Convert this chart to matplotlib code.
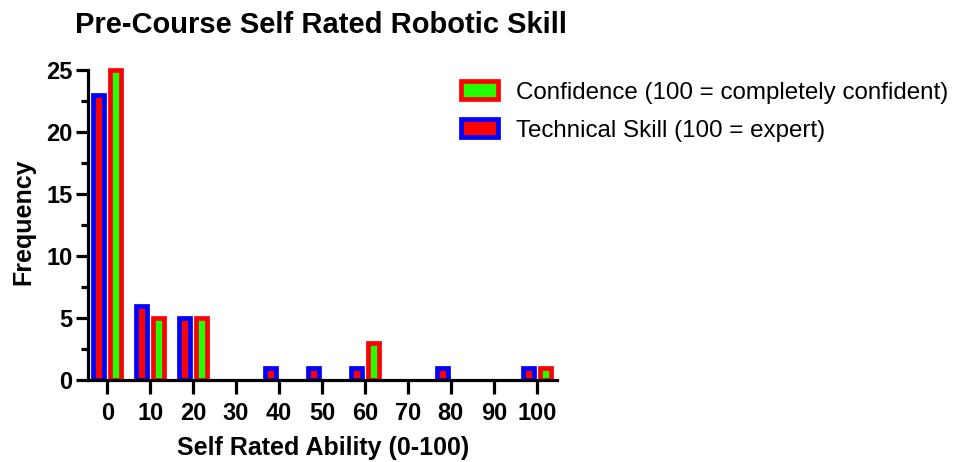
import matplotlib.pyplot as plt
from matplotlib.ticker import MultipleLocator

# data
ability = [0, 10, 20, 30, 40, 50, 60, 70, 80, 90, 100]
technical = [23, 6, 5, 0, 1, 1, 1, 0, 1, 0, 1]
confidence = [25, 5, 5, 0, 0, 0, 3, 0, 0, 0, 1]
labels = ["Confidence (100 = completely confident)", "Technical Skill (100 = expert)"]

plt.rcParams['font.family'] = ['Liberation Sans', 'DejaVu Sans']

fig = plt.figure(figsize=(9.66, 4.62), dpi=100)
ax = fig.add_axes([0.091, 0.1775, 0.486, 0.687])

w = 2.56
lw = 3.4
tech_x = [a - 1.95 for a in ability]
conf_x = [a + 1.95 for a in ability]
b1 = ax.bar(tech_x, technical, width=w, color='#ff0000', edgecolor='#0000ff', linewidth=lw)
b2 = ax.bar(conf_x, confidence, width=w, color='#22ff00', edgecolor='#ff0000', linewidth=lw)
for bars in (b1, b2):
    for r in bars:
        if r.get_height() == 0:
            r.set_linewidth(0)

ax.set_xlim(-4.5, 104.8)
ax.set_ylim(0, 25.6)
ax.spines['left'].set_bounds(0, 25)
ax.spines['top'].set_visible(False)
ax.spines['right'].set_visible(False)
for s in ('left', 'bottom'):
    ax.spines[s].set_linewidth(2.3)

ax.set_xticks(ability)
ax.yaxis.set_major_locator(MultipleLocator(5))
ax.yaxis.set_minor_locator(MultipleLocator(2.5))
ax.tick_params(axis='x', length=10, width=2.3, labelsize=17, pad=6)
ax.tick_params(axis='y', which='major', length=9, width=2.3, labelsize=17, pad=2)
ax.tick_params(axis='y', which='minor', length=5, width=2.3)
for t in ax.get_xticklabels() + ax.get_yticklabels():
    t.set_fontweight('bold')

ax.set_xlabel('Self Rated Ability (0-100)', fontsize=18, fontweight='bold', labelpad=8)
ax.set_ylabel('Frequency', fontsize=18, fontweight='bold', labelpad=8)
fig.text(0.078, 0.945, 'Pre-Course Self Rated Robotic Skill', fontsize=21, fontweight='bold',
         ha='left', va='center')

fig.legend([b2, b1], labels, loc='upper left', bbox_to_anchor=(0.455, 0.871), frameon=False,
           prop={'size': 17.4},
           handlelength=1.53, handleheight=0.75, handletextpad=0.75, labelspacing=0.65)

plt.savefig('out.png', dpi=100)
plt.close()
